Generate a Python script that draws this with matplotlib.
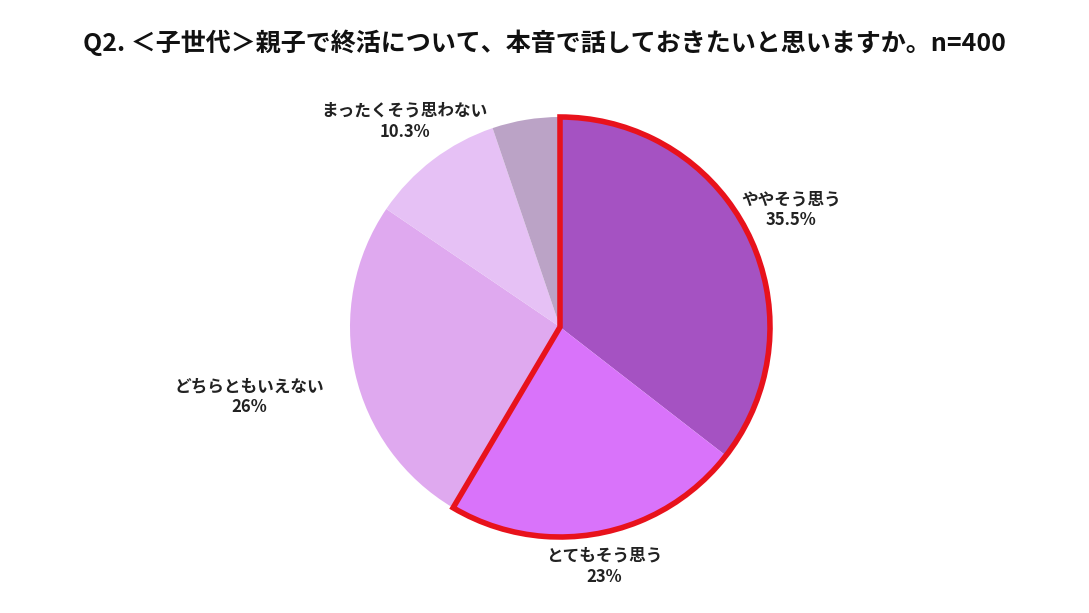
import matplotlib.pyplot as plt
from matplotlib.patches import Wedge

plt.rcParams['font.family'] = ['Noto Sans CJK JP', 'DejaVu Sans']

# Data
labels = ['ややそう思う', 'とてもそう思う', 'どちらともいえない', 'まったくそう思わない', '']
values = [35.5, 23, 26, 10.3, 5.2]
pct_labels = ['35.5%', '23%', '26%', '10.3%', '']
colors = ['#A552C2', '#D973FA', '#DFA9EF', '#E6C1F5', '#BBA3C6']

# label positions (data coords, pie radius = 1)
label_pos = [(1.10, 0.56), (0.21, -1.14), (-1.48, -0.33), (-0.74, 0.98), None]

fig = plt.figure(figsize=(10.89, 6.13), dpi=100)
ax = fig.add_axes([350 / 1089, 76 / 613, 420 / 1089, 420 / 613])

wedges, _ = ax.pie(values, colors=colors, startangle=90, counterclock=False,
                   radius=1, wedgeprops=dict(linewidth=0))
ax.set_xlim(-1, 1)
ax.set_ylim(-1, 1)
ax.set_aspect('equal')
ax.axis('off')

# red outline around the top two answers
outline = Wedge((0, 0), 1, wedges[1].theta1, wedges[0].theta2, fill=False,
                edgecolor='#E8121C', linewidth=4, joinstyle='miter', clip_on=False)
ax.add_patch(outline)

for lab, pct, pos in zip(labels, pct_labels, label_pos):
    if pos is None:
        continue
    ax.text(pos[0], pos[1], lab + '\n' + pct, ha='center', va='center',
            fontsize=12, fontweight='bold', color='#222222', linespacing=1.2)

fig.text(0.5, 0.93, 'Q2. ＜子世代＞親子で終活について、本音で話しておきたいと思いますか。n=400',
         ha='center', va='center', fontsize=18, fontweight='bold', color='#111111')

plt.savefig('out.png', dpi=100)
